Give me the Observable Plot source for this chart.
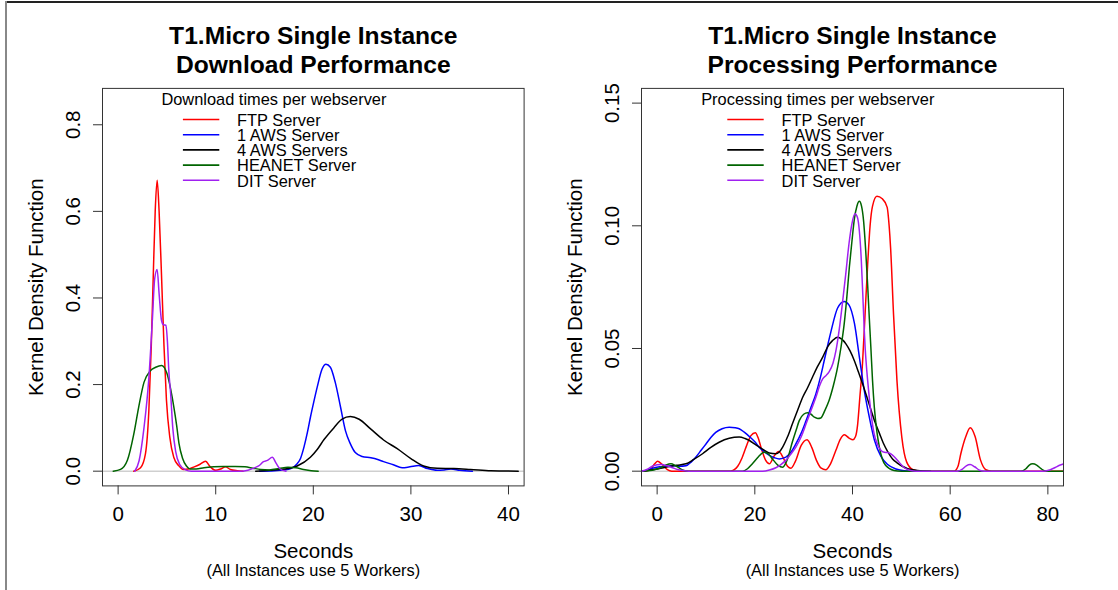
<!DOCTYPE html>
<html>
<head>
<meta charset="utf-8">
<script src="https://cdn.jsdelivr.net/npm/d3@7"></script>
<script src="https://cdn.jsdelivr.net/npm/@observablehq/plot@0.6"></script>
<style>
  html, body { margin: 0; padding: 0; background: #fff; }
  #wrap { position: relative; width: 1118px; height: 590px; overflow: hidden; background: #fff; font-family: "Liberation Sans", Arial, sans-serif; }
  #wrap .panel { position: absolute; top: 0; }
  #topline { position: absolute; left: 5px; top: 1px; width: 1113px; height: 2px; background: #222; }
  #leftline { position: absolute; left: 5px; top: 1px; width: 2px; height: 589px; background: #888; }
</style>
</head>
<body>
<div id="wrap"><div id="topline"></div><div id="leftline"></div></div>
<script>
// ---------------- labels ----------------
const seriesNames = ["FTP Server", "1 AWS Server", "4 AWS Servers", "HEANET Server", "DIT Server"];
const seriesColors = ["#ff0000", "#0000ff", "#000000", "#006400", "#a020f0"];
const titleDL = "T1.Micro Single Instance\nDownload Performance";
const titlePR = "T1.Micro Single Instance\nProcessing Performance";
const legendTitleDL = "Download times per webserver";
const legendTitlePR = "Processing times per webserver";
const xLabel = "Seconds";
const xSubLabel = "(All Instances use 5 Workers)";
const yLabel = "Kernel Density Function";
const xTicksDL = [0, 10, 20, 30, 40];
const yTicksDL = [0, 0.2, 0.4, 0.6, 0.8];
const xTicksPR = [0, 20, 40, 60, 80];
const yTicksPR = [0, 0.05, 0.10, 0.15];

// ---------------- Download panel densities [seconds, density] ----------------
const dlFTP = [[1.6,0],[2.3,0.008],[2.8,0.04],[3.15,0.14],[3.4,0.29],[3.6,0.45],[3.8,0.6],[4.0,0.672],[4.2,0.6],[4.45,0.45],[4.7,0.29],[4.95,0.165],[5.3,0.078],[5.7,0.032],[6.2,0.013],[6.7,0.004],[7.2,0.005],[7.8,0.01],[8.4,0.016],[8.95,0.023],[9.45,0.01],[10.0,0.002],[10.5,0.005],[11.0,0.01],[11.5,0.004],[12.2,0.001],[12.8,0]];
const dlAWS1 = [[14.5,0],[16,0.001],[17,0.003],[17.7,0.006],[18.3,0.016],[18.7,0.03],[19.05,0.056],[19.4,0.09],[19.7,0.124],[20.05,0.16],[20.4,0.194],[20.9,0.236],[21.3,0.247],[21.75,0.24],[22.25,0.205],[22.8,0.147],[23.3,0.093],[23.8,0.063],[24.3,0.043],[25.0,0.034],[25.9,0.031],[26.6,0.027],[27.2,0.022],[28.2,0.015],[29.1,0.008],[29.9,0.01],[30.8,0.013],[31.7,0.006],[32.7,0.002],[33.4,0.003],[34.1,0.005],[35.0,0.002],[36.3,0]];
const dlAWS4 = [[14.1,0],[15.6,0.002],[17.0,0.005],[18.35,0.012],[19.7,0.032],[20.4,0.05],[21.1,0.073],[22.1,0.1],[22.95,0.12],[23.8,0.126],[24.7,0.12],[25.9,0.097],[27.2,0.072],[28.6,0.052],[30.0,0.029],[31.3,0.012],[32.7,0.0065],[34.4,0.006],[36.1,0.004],[38.2,0.001],[41,0]];
const dlHEANET = [[-0.5,0],[0.25,0.004],[0.95,0.025],[1.6,0.085],[2.1,0.147],[2.65,0.205],[3.3,0.232],[3.85,0.24],[4.45,0.244],[5.0,0.226],[5.38,0.19],[5.72,0.147],[6.0,0.105],[6.23,0.065],[6.6,0.03],[7.0,0.012],[7.4,0.005],[8.0,0.005],[8.8,0.008],[9.8,0.01],[10.8,0.011],[12.0,0.011],[13.0,0.01],[13.8,0.007],[14.6,0.004],[15.5,0.003],[16.5,0.006],[17.4,0.009],[18.2,0.008],[19.0,0.004],[19.8,0.001],[20.5,0]];
const dlDIT = [[1.7,0],[2.15,0.024],[2.65,0.1],[3.15,0.215],[3.5,0.345],[3.75,0.445],[4.0,0.466],[4.2,0.41],[4.45,0.348],[4.65,0.338],[4.9,0.337],[5.05,0.3],[5.2,0.23],[5.38,0.18],[5.6,0.1],[5.9,0.045],[6.3,0.016],[6.9,0.003],[7.5,0],[9,0],[11,0],[12.5,0],[13.3,0.002],[13.9,0.007],[14.4,0.012],[14.9,0.022],[15.3,0.025],[15.8,0.032],[16.2,0.018],[16.6,0.005],[17.2,0]];

// ---------------- Processing panel densities [seconds, density] ----------------
const prFTP = [[-3.2,0],[-1.5,0.0005],[-0.5,0.003],[0.1,0.004],[0.9,0.003],[2.1,0.0006],[3,0],[15,0],[15.8,0.0006],[16.5,0.002],[17.4,0.0055],[18.2,0.0098],[19.2,0.0145],[20.1,0.0157],[20.7,0.0135],[21.25,0.0098],[22.2,0.0045],[23.0,0.003],[23.9,0.006],[24.9,0.008],[25.8,0.0055],[26.7,0.002],[27.4,0.0012],[28.3,0.004],[29.5,0.0105],[30.7,0.0128],[31.7,0.0095],[32.6,0.0045],[33.6,0.0012],[34.5,0.0006],[35.5,0.003],[36.6,0.0085],[37.5,0.013],[38.35,0.0148],[39.3,0.0135],[40.1,0.0128],[40.6,0.014],[41.05,0.019],[41.5,0.03],[42.05,0.044],[42.6,0.065],[43.1,0.084],[43.6,0.1],[44.1,0.108],[45.0,0.112],[46.1,0.111],[47.1,0.1075],[47.5,0.1],[47.8,0.091],[48.4,0.064],[49.1,0.037],[50.1,0.0138],[51.1,0.0037],[52.4,0.0006],[53.8,0],[60.8,0],[61.6,0.002],[62.2,0.0073],[63.2,0.0141],[64.1,0.0177],[65.1,0.0141],[66.2,0.0046],[67.3,0.0006],[68.5,0],[83.3,0]];
const prAWS1 = [[-3.2,0],[-2,0.0004],[-1,0.0012],[0.5,0.0018],[2,0.002],[3.5,0.0022],[4.5,0.002],[5.9,0.0022],[7.0,0.0038],[7.9,0.0057],[9.0,0.0085],[10.0,0.0111],[11.0,0.0137],[12.0,0.0158],[13.3,0.0173],[14.76,0.0179],[16.0,0.0177],[16.8,0.0173],[17.9,0.0158],[18.9,0.0141],[20.0,0.012],[20.9,0.0098],[22.0,0.0078],[23.0,0.0064],[24.0,0.0055],[25.0,0.005],[26.37,0.0057],[27.5,0.008],[28.4,0.0111],[29.5,0.0155],[30.5,0.0206],[31.5,0.026],[32.5,0.0315],[33.4,0.038],[34.2,0.045],[35.0,0.052],[35.6,0.057],[36.95,0.0665],[38.3,0.0692],[39.3,0.0677],[40.4,0.0602],[41.4,0.0466],[42.4,0.033],[43.4,0.0224],[44.47,0.0128],[45.8,0.0061],[47.2,0.0027],[48.9,0.0009],[50.6,0.0002],[53,0]];
const prAWS4 = [[-3.2,0],[-1,0.0006],[1,0.0013],[2.5,0.0019],[4,0.0024],[5.9,0.003],[7.5,0.0048],[9.3,0.0071],[11,0.0097],[12.7,0.0118],[14.76,0.0134],[16.8,0.0139],[18.0,0.0133],[18.9,0.0125],[20.0,0.011],[20.9,0.0098],[22.0,0.0085],[22.96,0.0074],[24.3,0.0071],[25.0,0.0078],[25.7,0.0098],[26.7,0.014],[27.7,0.0193],[28.8,0.025],[29.8,0.0301],[30.8,0.034],[31.8,0.0383],[32.8,0.0425],[33.9,0.0465],[35.0,0.051],[35.9,0.0532],[36.95,0.0546],[37.8,0.0538],[38.65,0.0519],[39.5,0.049],[40.36,0.0451],[41.2,0.0405],[42.06,0.0356],[42.9,0.0305],[43.77,0.025],[44.6,0.02],[45.5,0.0155],[46.3,0.0115],[47.2,0.008],[48.2,0.005],[49.2,0.0033],[50.2,0.002],[51.3,0.001],[53.3,0.0003],[56,0]];
const prHEANET = [[-3.2,0],[-1,0.0004],[0.5,0.0012],[1.8,0.0025],[2.83,0.003],[3.8,0.0022],[5.2,0.0005],[6.5,0],[17.5,0],[18.5,0.001],[19.5,0.003],[20.7,0.0058],[21.9,0.0077],[22.8,0.007],[23.6,0.005],[24.7,0.0025],[25.7,0.0016],[26.6,0.0045],[27.7,0.012],[28.5,0.017],[29.1,0.0206],[30.0,0.0232],[30.8,0.0238],[31.5,0.0232],[32.2,0.022],[32.9,0.0215],[33.5,0.0217],[34.4,0.025],[35.2,0.0288],[36.1,0.035],[36.95,0.0424],[37.6,0.05],[38.3,0.06],[38.8,0.07],[39.35,0.083],[39.9,0.094],[40.4,0.103],[40.9,0.108],[41.4,0.110],[41.85,0.108],[42.27,0.102],[42.7,0.09],[43.1,0.076],[43.45,0.062],[43.77,0.05],[44.1,0.037],[44.47,0.026],[45.0,0.016],[45.5,0.0098],[46.1,0.005],[46.8,0.0023],[48.5,0.0003],[50,0],[74.5,0],[75.5,0.001],[76.2,0.0025],[76.9,0.003],[77.7,0.0025],[78.6,0.001],[79.6,0],[83.3,0]];
const prDIT = [[-3.2,0],[-2,0.0008],[-0.8,0.0022],[0.78,0.0027],[2,0.0022],[3.17,0.0014],[4.2,0.0007],[5.2,0.0003],[6.5,0],[21.6,0],[23,0.0005],[24.3,0.0014],[25.4,0.0028],[26.4,0.0045],[27.4,0.007],[28.4,0.0098],[29.5,0.014],[30.5,0.0193],[31.5,0.0247],[32.5,0.0301],[33.3,0.035],[33.9,0.0376],[34.6,0.039],[35.2,0.0405],[36.0,0.044],[36.6,0.049],[37.3,0.058],[37.97,0.069],[38.6,0.08],[39.3,0.093],[39.9,0.101],[40.5,0.1049],[41.0,0.1035],[41.4,0.098],[41.8,0.086],[42.0,0.077],[42.6,0.05],[43.1,0.037],[43.77,0.024],[44.4,0.0155],[45.1,0.011],[45.8,0.0085],[46.5,0.0077],[47.2,0.0076],[47.8,0.0071],[48.5,0.006],[49.2,0.0045],[49.9,0.0028],[50.6,0.0014],[51.9,0.0003],[53,0],[61.5,0],[62.5,0.0008],[63.3,0.0022],[64.1,0.0027],[65,0.0018],[66,0.0004],[67,0],[78.3,0],[79.5,0.0001],[80.5,0.0006],[81.5,0.0015],[82.4,0.0024],[83.3,0.003]];

const FONT = "Liberation Sans, Arial, Helvetica, sans-serif";

function legendMark(title, off) {
  return (index, scales, values, dim) => {
    const g = d3.create("svg:g").attr("font-family", FONT).attr("text-anchor", "start");
    const x0 = dim.marginLeft, y0 = dim.marginTop;
    g.append("text").attr("x", x0 + off.title).attr("y", y0 + 17.1)
      .attr("text-anchor", "start").attr("font-size", 16.4).attr("fill", "#000").text(title);
    seriesNames.forEach((name, i) => {
      const yy = y0 + 31.6 + i * 15.2;
      g.append("line").attr("x1", x0 + off.l1).attr("x2", x0 + off.l2)
        .attr("y1", yy).attr("y2", yy).attr("stroke", seriesColors[i]).attr("stroke-width", 1.6);
      g.append("text").attr("x", x0 + off.text).attr("y", yy + 6.2)
        .attr("text-anchor", "start").attr("font-size", 16.4).attr("fill", "#000").text(name);
    });
    return g.node();
  };
}

function panel(cfg) {
  const series = cfg.series;
  const marks = [
    Plot.ruleY([0], {stroke: "#cfcfcf", strokeWidth: 1.5}),
    ...series.map((s, i) => Plot.line(s, {x: d => d[0], y: d => d[1], stroke: seriesColors[i], strokeWidth: 1.5, curve: "monotone-x", clip: true})),
    Plot.frame({stroke: "#333", strokeWidth: 1}),
    Plot.axisX(cfg.xTicks, {tickSize: 9, tickFormat: () => "", label: null, stroke: "#333"}),
    Plot.axisY(cfg.yTicks, {tickSize: 9, tickFormat: () => "", label: null, stroke: "#333"}),
    Plot.text(cfg.xTicks, {x: d => d, text: d => String(d), frameAnchor: "bottom", dy: 34.6, lineAnchor: "bottom", fontSize: 20.5, fill: "#000"}),
    Plot.text(cfg.yTicks, {y: d => d, text: d => d.toFixed(cfg.yDigits), frameAnchor: "left", dx: -22.7, rotate: -90, lineAnchor: "bottom", textAnchor: "middle", fontSize: 20.5, fill: "#000"}),
    Plot.text([cfg.title], {text: d => d, frameAnchor: "top", dy: -15.2, lineAnchor: "bottom", lineHeight: 1.195, fontSize: 24.6, fontWeight: "bold", fill: "#000"}),
    Plot.text([xLabel], {text: d => d, frameAnchor: "bottom", dy: 71.9, lineAnchor: "bottom", fontSize: 20.5, fill: "#000"}),
    Plot.text([xSubLabel], {text: d => d, frameAnchor: "bottom", dy: 89.6, lineAnchor: "bottom", fontSize: 16.4, fill: "#000"}),
    Plot.text([yLabel], {text: d => d, frameAnchor: "left", dx: -60, rotate: -90, lineAnchor: "bottom", textAnchor: "middle", fontSize: 20.5, fill: "#000"}),
    legendMark(cfg.legendTitle, cfg.legendOff)
  ];
  return Plot.plot({
    width: 559, height: 590,
    marginLeft: cfg.ml, marginRight: cfg.mr, marginTop: 87.9, marginBottom: 104.6,
    x: {domain: cfg.xDomain},
    y: {domain: cfg.yDomain},
    style: {fontFamily: FONT, background: "transparent", overflow: "visible", color: "#000"},
    marks
  });
}

const left = panel({
  series: [dlFTP, dlAWS1, dlAWS4, dlHEANET, dlDIT],
  xTicks: xTicksDL, yTicks: yTicksDL, yDigits: 1,
  xDomain: [-1.6, 41.6], yDomain: [-0.034, 0.884],
  ml: 102, mr: 35.4,
  title: titleDL, legendTitle: legendTitleDL,
  legendOff: {title: 59.4, l1: 80.9, l2: 117.3, text: 135.1}
});
const right = panel({
  series: [prFTP, prAWS1, prAWS4, prHEANET, prDIT],
  xTicks: xTicksPR, yTicks: yTicksPR, yDigits: 2,
  xDomain: [-3.2, 83.2], yDomain: [-0.006, 0.156],
  ml: 82, mr: 55,
  title: titlePR, legendTitle: legendTitlePR,
  legendOff: {title: 60.2, l1: 86.3, l2: 122.7, text: 140.6}
});

const wrap = document.getElementById("wrap");
left.classList.add("panel"); left.style.left = "0px";
right.classList.add("panel"); right.style.left = "559px";
wrap.appendChild(left);
wrap.appendChild(right);
</script>
</body>
</html>
